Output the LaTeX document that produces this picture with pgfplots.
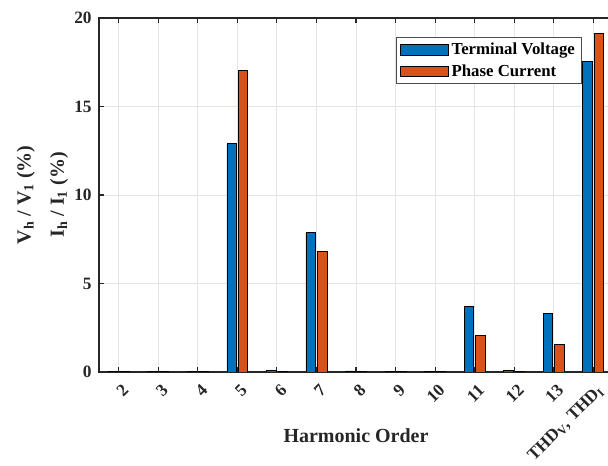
\documentclass[border=0pt]{standalone}
\usepackage{pgfplots}
\pgfplotsset{compat=1.18}
\usepackage{fontspec}
\setmainfont{Liberation Serif}

\definecolor{mblue}{RGB}{0,114,189}
\definecolor{morange}{RGB}{217,83,25}
\definecolor{gridgray}{RGB}{228,228,228}

\pgfplotstableread{
h   volt   curr
2   0.05   0.03
3   0.03   0.02
4   0.04   0.02
5   12.90  17.03
6   0.08   0.05
7   7.88   6.81
8   0.06   0.03
9   0.03   0.02
10  0.04   0.02
11  3.72   2.06
12  0.10   0.05
13  3.32   1.54
14  17.56  19.15
}\harmonics

\begin{document}
\begin{tikzpicture}
\begin{axis}[
  name=ax,
  scale only axis,
  width=385.5pt, height=265.5pt,
  xmin=1.5, xmax=14.5,
  ymin=0, ymax=20,
  xtick={2,...,14},
  xticklabels={2,3,4,5,6,7,8,9,10,11,12,13,{THD\textsubscript{V}, THD\textsubscript{I}}},
  ytick={0,5,10,15,20},
  tick align=inside,
  major tick length=4pt,
  xtick pos=both, ytick pos=both,
  axis line style={line width=0.8pt, black!85},
  every tick/.style={black!85, line width=0.8pt},
  grid=major,
  major grid style={gridgray, line width=0.7pt},
  /pgf/number format/assume math mode=true,
  tick label style={font=\bfseries\fontsize{13}{13}\selectfont, black!85},
  xticklabel style={rotate=45, anchor=north east, inner sep=1pt, xshift=-3.5pt, yshift=-6.3pt},
  yticklabel style={xshift=-2pt},
  xlabel={Harmonic Order},
  xlabel style={font=\bfseries\fontsize{15}{15}\selectfont, black!85, at={(0.5,-0.181)}, anchor=center},
  ylabel={V\textsubscript{h} / V\textsubscript{1} (\%)\\I\textsubscript{h} / I\textsubscript{1} (\%)},
  ylabel style={font=\bfseries\fontsize{15}{25}\selectfont, black!85, align=center, at={(-0.11,0.5)}, anchor=center, rotate=0},
  legend cell align=left,
  legend style={at={(0.9397,0.946)}, anchor=north east,
    font=\bfseries\fontsize{12.6}{12.6}\selectfont,
    draw=black!70, line width=0.6pt, fill=white,
    inner xsep=3pt, inner ysep=2pt, row sep=2pt,
    nodes={inner sep=2pt}},
  legend image code/.code={\draw[#1, draw=black, line width=0.6pt] (0pt,-4pt) rectangle (36pt,4pt);},
  clip=true,
]
\addplot[ybar, bar width=0.24, bar shift=-0.145, fill=mblue, draw=black, line width=0.6pt]
  table[x=h, y=volt] {\harmonics};
\addlegendentry{Terminal Voltage\hspace{6pt}}
\addplot[ybar, bar width=0.24, bar shift=0.145, fill=morange, draw=black, line width=0.6pt]
  table[x=h, y=curr] {\harmonics};
\addlegendentry{Phase Current}
\end{axis}
\pgfresetboundingbox
\path[use as bounding box]
  ([shift={(-74.25pt,-70.5pt)}]ax.south west) rectangle
  ([shift={(381.75pt,279pt)}]ax.south west);
\end{tikzpicture}
\end{document}
